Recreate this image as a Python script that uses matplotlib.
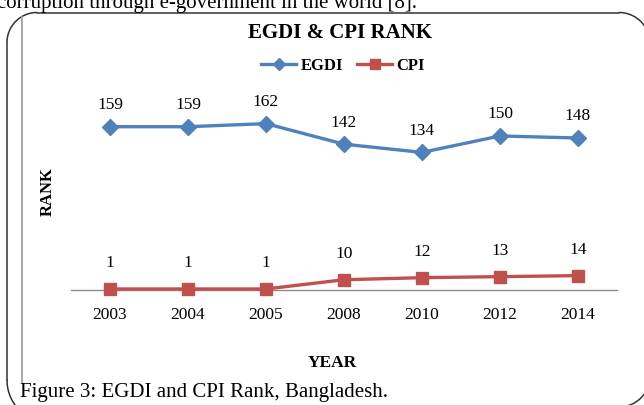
import matplotlib
matplotlib.use("Agg")
import matplotlib.pyplot as plt
import numpy as np

plt.rcParams['font.family'] = ['Liberation Serif', 'DejaVu Serif']

# --- data ---
years = ['2003', '2004', '2005', '2008', '2010', '2012', '2014']
egdi_rank = [159, 159, 162, 142, 134, 150, 148]
cpi_rank = [1, 1, 1, 10, 12, 13, 14]

title = 'EGDI & CPI RANK'
x_title = 'YEAR'
y_title = 'RANK'
caption = 'Figure 3: EGDI and CPI Rank, Bangladesh.'
top_line = 'corruption through e-government in the world [8].'

BLUE = '#4F81BD'
RED = '#C0504D'

W, H = 644, 405
fig = plt.figure(figsize=(W / 100, H / 100), dpi=100)

# overlay in pixel coords for the page frame and free text
page = fig.add_axes([0, 0, 1, 1], zorder=0)
page.set_xlim(0, W)
page.set_ylim(H, 0)
page.axis('off')


def corner(cx, cy, r, a0, a1):
    # quarter arc in pixel space (y grows downward)
    t = np.radians(np.linspace(a0, a1, 40))
    return cx + r * np.cos(t), cy - r * np.sin(t)


frame_kw = dict(color='#333333', linewidth=1.1, solid_capstyle='round')
left, top, right = 7, 12.5, 650
page.plot([left, left], [top + 30, 380], **frame_kw)
page.plot([left + 30, right - 31], [top, top], **frame_kw)
page.plot([right, right], [top + 31, 376], **frame_kw)
page.plot(*corner(left + 30, top + 30, 30, 90, 180), **frame_kw)
page.plot(*corner(right - 31, top + 31, 31, 0, 90), **frame_kw)
page.plot(*corner(left + 43, 380, 43, 180, 270), **frame_kw)
page.plot(*corner(right - 31, 376, 31, 270, 360), **frame_kw)
page.plot([22, 22], [17, 383], color='#a0a0a0', linewidth=1.3)

page.text(-3, 8, top_line, fontsize=15, va='baseline', ha='left')
page.text(20, 393, caption, fontsize=15, va='center', ha='left')
page.text(340, 33, title, fontsize=15, fontweight='bold', ha='center', va='center')
page.text(332, 363, x_title, fontsize=12.5, fontweight='bold', ha='center', va='center')
page.text(48, 192, y_title, fontsize=12, fontweight='bold', rotation=90,
          ha='center', va='center')

# chart area
ax = fig.add_axes([71 / W, 1 - 290 / H, (617 - 71) / W, (290 - 84.6) / H], zorder=1)
ax.patch.set_alpha(0)
x = list(range(len(years)))

ax.plot(x, egdi_rank, color=BLUE, linewidth=2.4, marker='D', markersize=8,
        label='EGDI', clip_on=False, zorder=3)
ax.plot(x, cpi_rank, color=RED, linewidth=2.4, marker='s', markersize=9,
        label='CPI', clip_on=False, zorder=3)

for i, v in enumerate(egdi_rank):
    ax.annotate(str(v), (i, v), xytext=(0, 15.5), textcoords='offset points',
                ha='center', va='center', fontsize=12.5)
for i, v in enumerate(cpi_rank):
    ax.annotate(str(v), (i, v), xytext=(0, 18.5), textcoords='offset points',
                ha='center', va='center', fontsize=12.5)

ax.set_xlim(-0.5, len(years) - 0.5)
ax.set_ylim(0, 200)
ax.set_xticks(x)
ax.set_xticklabels(years, fontsize=12.5)
ax.set_yticks([])
ax.tick_params(axis='x', length=0, pad=12)
for s in ['top', 'right', 'left']:
    ax.spines[s].set_visible(False)
ax.spines['bottom'].set_color('#8c8c8c')
ax.spines['bottom'].set_linewidth(1.0)

leg = ax.legend(loc='center', bbox_to_anchor=(343 / W, 1 - 66 / H),
                bbox_transform=fig.transFigure, ncol=2, frameon=False,
                handlelength=2.1, handletextpad=0.25, columnspacing=0.85,
                prop={'weight': 'bold', 'size': 12}, markerscale=0.8)

fig.savefig('out.png', dpi=100)
